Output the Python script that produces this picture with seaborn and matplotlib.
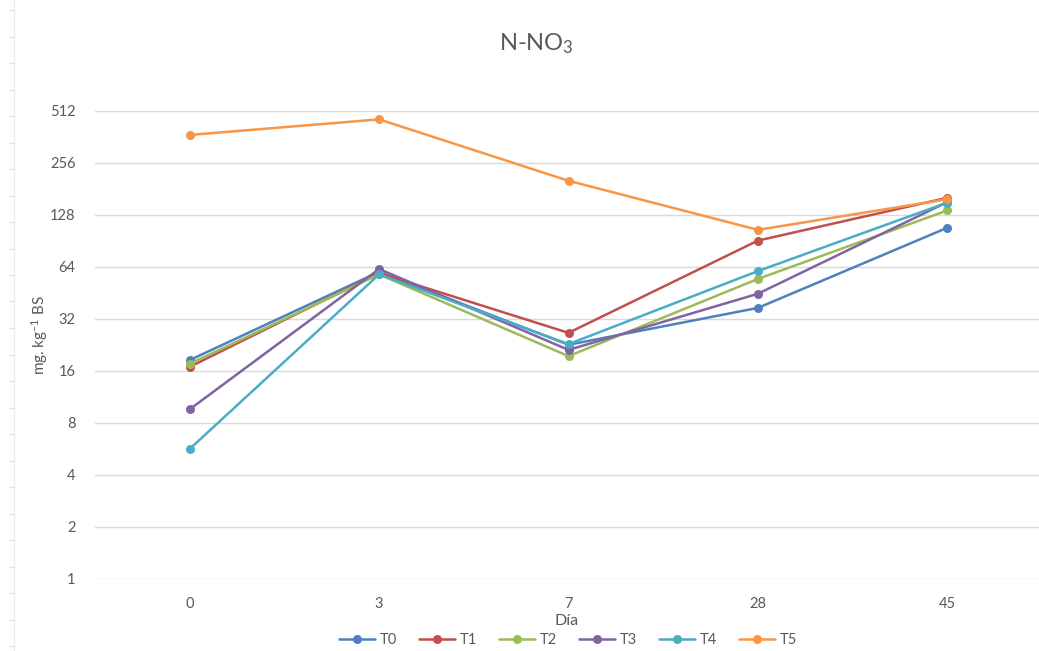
import numpy as np
import pandas as pd
import matplotlib
matplotlib.use("Agg")
import matplotlib.pyplot as plt
import seaborn as sns
from matplotlib.ticker import FixedLocator, NullLocator
from matplotlib.lines import Line2D

# Sampling days and nitrate-N concentrations per treatment (mg kg-1 dry soil)
dias = ["0", "3", "7", "28", "45"]
T0 = [18.5, 60.0, 22.7, 37.1, 108.0]
T1 = [16.9, 59.0, 26.6, 91.0, 161.0]
T2 = [17.6, 58.0, 19.5, 54.6, 136.0]
T3 = [9.6, 62.3, 21.2, 44.8, 152.0]
T4 = [5.66, 58.0, 22.9, 60.6, 151.0]
T5 = [372.0, 458.0, 202.0, 105.0, 158.0]
tratamientos = ["T0", "T1", "T2", "T3", "T4", "T5"]
colores = ["#4F81BD", "#C0504D", "#9BBB59", "#8064A2", "#4BACC6", "#F79646"]
y_ticks = [1, 2, 4, 8, 16, 32, 64, 128, 256, 512]

series = [T0, T1, T2, T3, T4, T5]
df = pd.DataFrame({
    "pos": np.tile(np.arange(len(dias)), len(tratamientos)),
    "valor": np.concatenate(series),
    "trat": np.repeat(tratamientos, len(dias)),
})

sns.set_theme(style="white")
plt.rcParams["font.family"] = ["Lato", "DejaVu Sans"]
plt.rcParams["mathtext.fontset"] = "custom"
plt.rcParams["mathtext.rm"] = "Lato"
plt.rcParams["mathtext.it"] = "Lato:italic"
plt.rcParams["mathtext.default"] = "regular"
gris = "#595959"

fig = plt.figure(figsize=(10.39, 6.51), dpi=100)
W, H = 1039, 651
ax = fig.add_axes([95 / W, 1 - 579 / H, 947 / W, (579 - 111) / H])

sns.lineplot(data=df, x="pos", y="valor", hue="trat", hue_order=tratamientos,
             palette=colores, marker="o", markersize=6.5, markeredgewidth=0,
             linewidth=1.8, ax=ax, legend=False, zorder=3)

ax.set_yscale("log", base=2)
ax.set_ylim(1, 512)
ax.yaxis.set_major_locator(FixedLocator(y_ticks))
ax.yaxis.set_minor_locator(NullLocator())
ax.set_yticks(y_ticks)
ax.set_yticklabels([str(v) for v in y_ticks])
ax.set_xlim(-0.5, len(dias) - 0.5)
ax.set_xticks(range(len(dias)))
ax.set_xticklabels(dias)

ax.grid(axis="y", color="#D9D9D9", linewidth=1.0)
ax.grid(axis="x", visible=False)
for s in ax.spines.values():
    s.set_visible(False)
ax.tick_params(axis="both", length=0, labelsize=10.5, colors=gris)
ax.tick_params(axis="x", pad=13)
ax.tick_params(axis="y", pad=14)

ax.set_xlabel("Día", fontsize=11.5, color=gris)
ax.xaxis.set_label_coords((567 - 95) / 947, -(621 - 579) / 468)
ax.xaxis.label.set_va("center")
ax.set_ylabel("mg. kg$^{-1}$ BS", fontsize=11, color=gris)
ax.yaxis.set_label_coords((40 - 95) / 947, (579 - 335) / 468)
ax.yaxis.label.set_va("center")

fig.text(536 / W, 1 - 44 / H, "N-NO$_3$", ha="center", va="center",
         fontsize=17, color=gris)

# light ruler along the left edge
ruler_x = 14 / W
fig.add_artist(Line2D([ruler_x, ruler_x], [0, 1], transform=fig.transFigure,
                      color="#EBEBEB", linewidth=0.8))
for yy in np.arange(10, H, 26.5):
    fig.add_artist(Line2D([9 / W, ruler_x], [1 - yy / H, 1 - yy / H],
                          transform=fig.transFigure, color="#E3E3E3",
                          linewidth=0.8))

handles = [Line2D([], [], color=c, marker="o", markersize=6.5,
                  markeredgewidth=0, linewidth=1.8) for c in colores]
fig.legend(handles, tratamientos, loc="center", ncol=6,
           bbox_to_anchor=(568 / W, 1 - 640 / H), frameon=False,
           fontsize=10.5, labelcolor=gris, handlelength=2.5,
           handletextpad=0.3, columnspacing=1.5)

fig.savefig("out.png", dpi=100)
